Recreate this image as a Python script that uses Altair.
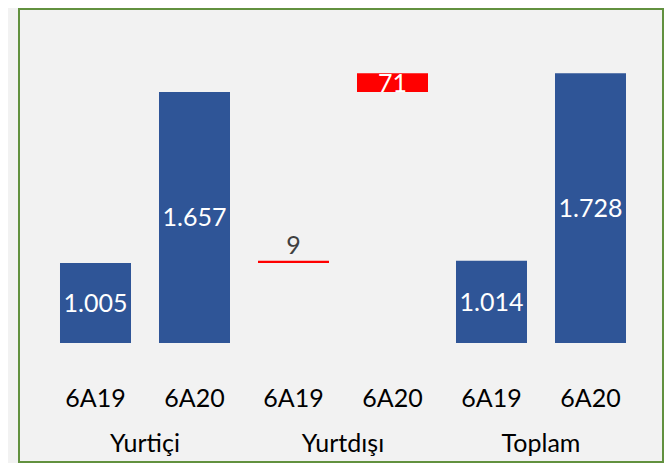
import altair as alt
import pandas as pd

# ---- data ----
GROUPS = ["Yurtiçi", "Yurtiçi", "Yurtdışı", "Yurtdışı", "Toplam", "Toplam"]
PERIODS = ["6A19", "6A20", "6A19", "6A20", "6A19", "6A20"]
VALUES = [1005, 1657, 9, 71, 1014, 1728]
KINDS = ["total", "total", "delta", "delta", "total", "total"]

AXIS_MIN = 700
AXIS_MAX = 1977

FONT = "Lato"
BLUE = "#2F5597"
RED = "#FF0000"
GREEN = "#62913F"

keys = [f"{g} {p}" for g, p in zip(GROUPS, PERIODS)]
domestic = {p: v for g, p, v in zip(GROUPS, PERIODS, VALUES) if g == GROUPS[0]}

starts, ends = [], []
for g, p, v, k in zip(GROUPS, PERIODS, VALUES, KINDS):
    if k == "total":
        starts.append(AXIS_MIN)
        ends.append(v)
    else:
        starts.append(domestic[p])
        ends.append(domestic[p] + v)


def fmt(v):
    return f"{v:,}".replace(",", ".")


df = pd.DataFrame({
    "key": keys,
    "group": GROUPS,
    "period": PERIODS,
    "value": VALUES,
    "kind": KINDS,
    "start": starts,
    "end": ends,
    "label": [fmt(v) for v in VALUES],
})
df["mid"] = (df["start"] + df["end"]) / 2
df["inside"] = (df["end"] - df["start"]) >= 30

xscale = alt.Scale(domain=keys, range=[38, 632], paddingInner=0.2828, paddingOuter=0.1414)
yscale = alt.Scale(domain=[AXIS_MIN, AXIS_MAX], range=[335, 0], zero=False, nice=False)

base = alt.Chart(df)

bars = base.mark_bar().encode(
    x=alt.X("key:N", scale=xscale, axis=None, sort=keys),
    y=alt.Y("start:Q", scale=yscale, axis=None),
    y2="end:Q",
    color=alt.Color("kind:N", scale=alt.Scale(domain=["total", "delta"], range=[BLUE, RED]), legend=None),
)

labels_in = base.transform_filter("datum.inside").mark_text(
    color="white", font=FONT, fontSize=25, baseline="middle", align="center", dy=1
).encode(
    x=alt.X("key:N", scale=xscale, sort=keys),
    y=alt.Y("mid:Q", scale=yscale),
    text="label:N",
)

labels_out = base.transform_filter("!datum.inside").mark_text(
    color="#404040", font=FONT, fontSize=25, baseline="bottom", align="center", dy=-2
).encode(
    x=alt.X("key:N", scale=xscale, sort=keys),
    y=alt.Y("end:Q", scale=yscale),
    text="label:N",
)

period_labels = base.mark_text(
    color="black", font=FONT, fontSize=25, baseline="alphabetic", align="center"
).encode(
    x=alt.X("key:N", scale=xscale, sort=keys),
    y=alt.value(399),
    text="period:N",
)

group_first = df.drop_duplicates("group")
group_labels = alt.Chart(group_first).mark_text(
    color="black", font=FONT, fontSize=25, baseline="alphabetic", align="center", dx=49.5
).encode(
    x=alt.X("key:N", scale=xscale, sort=keys),
    y=alt.value(444),
    text="group:N",
)

border = alt.Chart(pd.DataFrame({"a": [0]})).mark_rect(
    fillOpacity=0, stroke=GREEN, strokeWidth=2
).encode(
    x=alt.value(11), x2=alt.value(655), y=alt.value(1), y2=alt.value(454)
)

chart = alt.layer(bars, labels_in, labels_out, period_labels, group_labels, border).properties(
    width=656, height=455, padding=0, background="#F2F2F2",
    autosize=alt.AutoSizeParams(type="none"),
).configure_view(stroke=None)

chart.save("out.html", embed_options={"renderer": "svg", "actions": False})
